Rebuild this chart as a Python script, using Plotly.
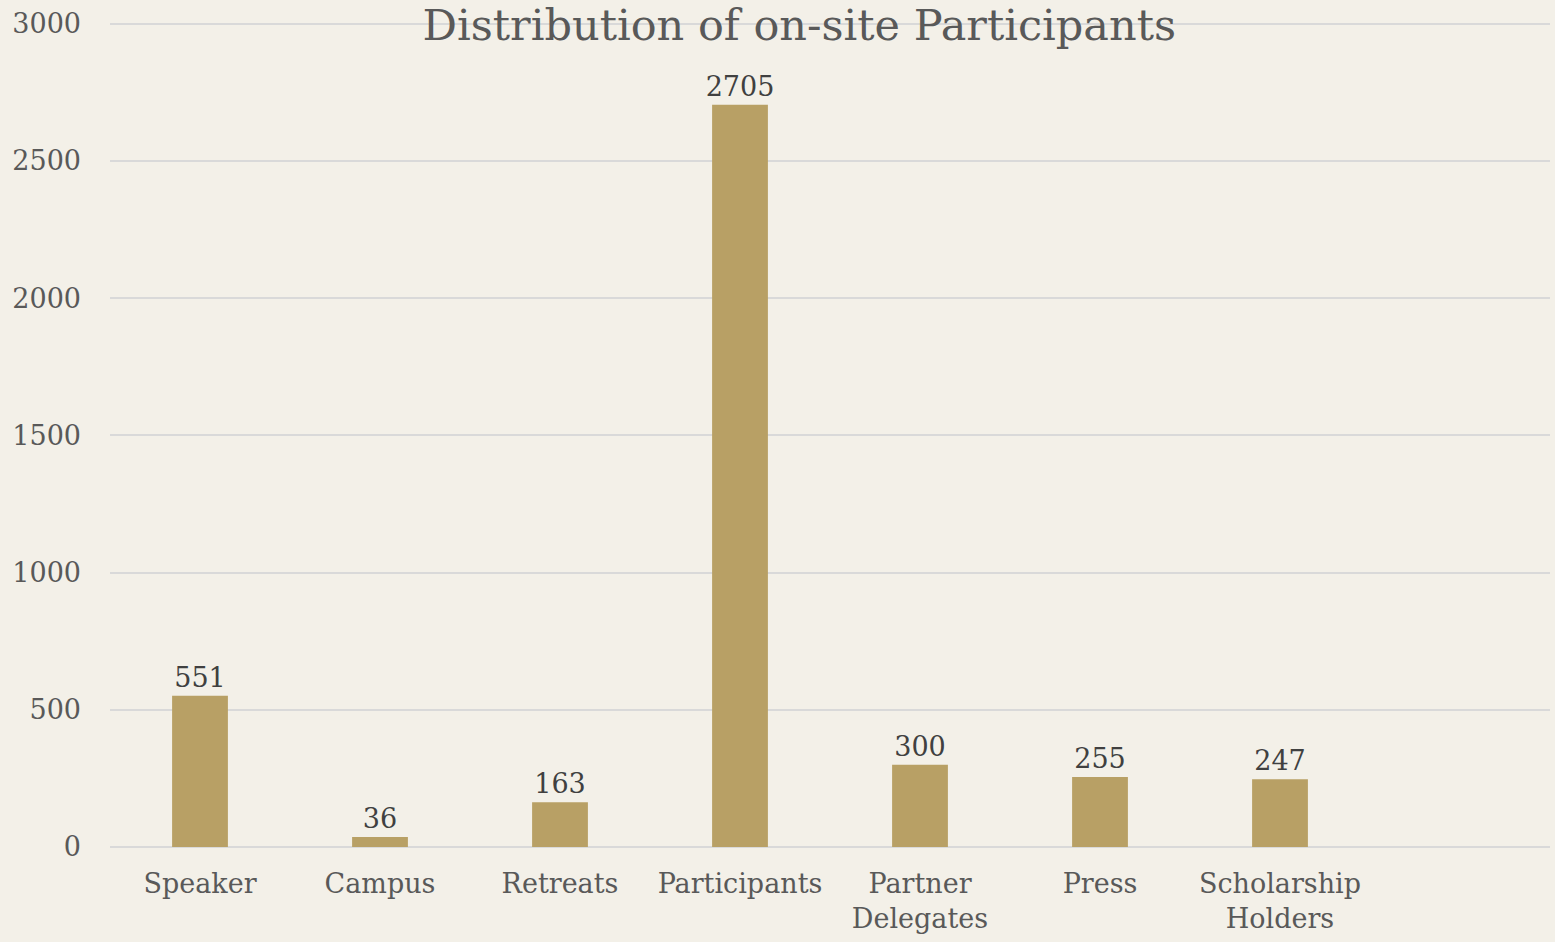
import plotly.graph_objects as go

categories = ["Speaker", "Campus", "Retreats", "Participants", "Partner<br>Delegates", "Press", "Scholarship<br>Holders"]
values = [551, 36, 163, 2705, 300, 255, 247]
y_ticks = [0, 500, 1000, 1500, 2000, 2500, 3000]

FONT = "Georgia, 'DejaVu Serif', serif"
positions = list(range(len(categories)))

fig = go.Figure(go.Bar(
    x=positions,
    y=values,
    width=0.31,
    marker=dict(color="#B8A065", line=dict(width=0)),
    text=[str(v) for v in values],
    textposition="outside",
    constraintext="none",
    textfont=dict(family=FONT, size=27, color="#404040"),
    cliponaxis=False,
))

fig.update_layout(
    width=1555, height=942,
    paper_bgcolor="#F3F0E8",
    plot_bgcolor="#F3F0E8",
    margin=dict(l=110, r=5, t=21, b=95),
    showlegend=False,
    title=dict(text="Distribution of on-site Participants",
               font=dict(family=FONT, size=43, color="#595959"),
               x=0.514, xanchor="center", xref="container",
               y=1 - 25 / 942, yanchor="middle", yref="container"),
    xaxis=dict(
        range=[-0.5, 7.5],
        tickmode="array", tickvals=positions, ticktext=categories,
        showgrid=False, zeroline=False, showline=False,
        tickfont=dict(family=FONT, size=27, color="#595959"),
        ticks="", ticklabelstandoff=18,
    ),
    yaxis=dict(
        range=[0, 3010],
        tickmode="array", tickvals=y_ticks, ticktext=[str(t) for t in y_ticks],
        showgrid=True, gridcolor="#D9D9D9", gridwidth=2,
        zeroline=True, zerolinecolor="#D9D9D9", zerolinewidth=2,
        showline=False, ticks="",
        tickfont=dict(family=FONT, size=27, color="#595959"),
        ticklabelstandoff=28,
    ),
)

fig.write_html(
    "out.html",
    config={"displayModeBar": False},
    post_script="document.body.style.margin='0';document.body.style.padding='0';",
)
